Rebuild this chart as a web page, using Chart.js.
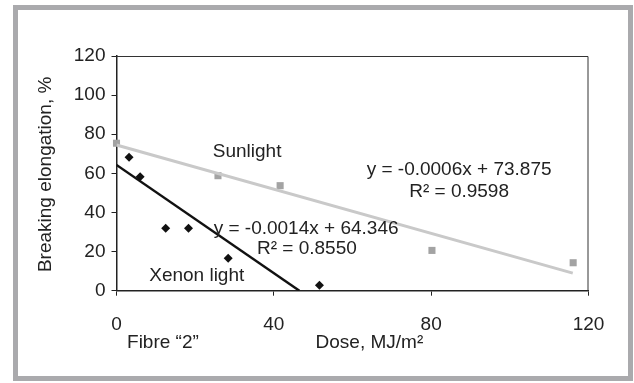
<!DOCTYPE html>
<html>
<head>
<meta charset="utf-8">
<script src="https://cdn.jsdelivr.net/npm/chart.js@4/dist/chart.umd.min.js"></script>
<style>
  html, body { margin: 0; padding: 0; background: #fff; }
  #wrap { position: relative; width: 634px; height: 383px; }
  #frame { position: absolute; left: 13px; top: 5px; width: 620px; height: 376px;
           border: 5px solid #aaaaad; box-sizing: border-box; }
  #chart { position: absolute; left: 0; top: 0; }
</style>
</head>
<body>
<div id="wrap">
  <div id="frame"></div>
  <canvas id="chart" width="634" height="383"></canvas>
</div>
<script>
// sunlight points
var sunDose = [0, 25.8, 41.6, 80.2, 116.1];
var sunElong = [75.4, 58.8, 53.7, 20.6, 14.3];
// xenon points
var xenonDose = [3.2, 6.0, 12.5, 18.3, 28.4, 51.6];
var xenonElong = [68.2, 58.3, 31.9, 31.9, 16.6, 2.8];
// trend lines (ends)
var sunTrendDose = [0, 116];
var sunTrendElong = [74.5, 9];
var xenonTrendDose = [0, 46.5];
var xenonTrendElong = [64.3, 0];
// ticks
var xTicks = [0, 40, 80, 120];
var yTicks = [0, 20, 40, 60, 80, 100, 120];

var FONT = '"Liberation Sans", Arial, sans-serif';
var TXT = '#222';

// text in the plot, placed at data coords
var notes = [
  { text: 'Sunlight', x: 33.2, y: 71.1 },
  { text: 'y = -0.0006x + 73.875', x: 87.1, y: 61.7 },
  { text: 'R\u00b2 = 0.9598', x: 87.1, y: 50.6 },
  { text: 'y = -0.0014x + 64.346', x: 48.2, y: 31.9 },
  { text: 'R\u00b2 = 0.8550', x: 48.4, y: 21.2 },
  { text: 'Xenon light', x: 20.4, y: 7.5 }
];

function toPoints(xs, ys) {
  var pts = [];
  for (var i = 0; i < xs.length; i++) {
    pts.push({ x: xs[i], y: ys[i] });
  }
  return pts;
}

// frame round plot area + free texts
var textPlugin = {
  id: 'texts',
  afterDatasetsDraw: function (chart) {
    var ctx = chart.ctx;
    var a = chart.chartArea;
    var xs = chart.scales.x, ys = chart.scales.y;
    ctx.save();
    // top and right edge of plot box
    ctx.strokeStyle = '#333';
    ctx.lineWidth = 1;
    ctx.beginPath();
    ctx.moveTo(a.left, a.top + 0.5);
    ctx.lineTo(a.right - 0.5, a.top + 0.5);
    ctx.lineTo(a.right - 0.5, a.bottom);
    ctx.stroke();

    ctx.fillStyle = TXT;
    ctx.font = '19px ' + FONT;
    ctx.textAlign = 'center';
    ctx.textBaseline = 'middle';
    notes.forEach(function (n) {
      ctx.fillText(n.text, xs.getPixelForValue(n.x), ys.getPixelForValue(n.y));
    });
    // under the axis
    ctx.fillText('Fibre \u201c2\u201d', xs.getPixelForValue(11.8), a.bottom + 52);
    ctx.fillText('Dose, MJ/m\u00b2', xs.getPixelForValue(64.3), a.bottom + 52);
    // y title
    ctx.translate(45.5, (a.top + a.bottom) / 2 + 1);
    ctx.rotate(-Math.PI / 2);
    ctx.fillText('Breaking elongation, %', 0, 0);
    ctx.restore();
  }
};

var ctx = document.getElementById('chart').getContext('2d');
var chart = new Chart(ctx, {
  type: 'scatter',
  data: {
    datasets: [
      {
        label: 'Sunlight trend',
        type: 'line',
        data: toPoints(sunTrendDose, sunTrendElong),
        borderColor: '#c9c9c9',
        borderWidth: 3,
        pointRadius: 0,
        fill: false
      },
      {
        label: 'Xenon trend',
        type: 'line',
        data: toPoints(xenonTrendDose, xenonTrendElong),
        borderColor: '#111',
        borderWidth: 2.5,
        pointRadius: 0,
        fill: false
      },
      {
        label: 'Sunlight',
        data: toPoints(sunDose, sunElong),
        pointStyle: 'rect',
        pointRadius: 5,
        backgroundColor: '#a3a3a3',
        borderColor: '#a3a3a3',
        borderWidth: 0,
        clip: false
      },
      {
        label: 'Xenon light',
        data: toPoints(xenonDose, xenonElong),
        pointStyle: 'rectRot',
        pointRadius: 4.5,
        backgroundColor: '#111',
        borderColor: '#111',
        borderWidth: 0,
        clip: false
      }
    ]
  },
  options: {
    responsive: false,
    animation: false,
    layout: { padding: { left: 0, top: 56, right: 45.5, bottom: 0 } },
    plugins: {
      legend: { display: false },
      tooltip: { enabled: false }
    },
    scales: {
      x: {
        type: 'linear',
        min: 0,
        max: 120,
        afterBuildTicks: function (s) {
          s.ticks = xTicks.map(function (v) { return { value: v }; });
        },
        afterFit: function (s) { s.height = 92.3; },
        grid: { display: true, drawOnChartArea: false, drawTicks: true, tickLength: 5, color: '#222' },
        border: { display: true, color: '#222', width: 1.5 },
        ticks: { color: TXT, font: { family: FONT, size: 19 }, padding: 18, maxRotation: 0 }
      },
      y: {
        type: 'linear',
        min: 0,
        max: 120,
        afterBuildTicks: function (s) {
          s.ticks = yTicks.map(function (v) { return { value: v }; });
        },
        afterFit: function (s) { s.width = 116.5; },
        grid: { display: true, drawOnChartArea: false, drawTicks: true, tickLength: 5, color: '#222' },
        border: { display: true, color: '#222', width: 1.5 },
        ticks: { color: TXT, font: { family: FONT, size: 19 }, padding: 6 }
      }
    }
  },
  plugins: [textPlugin]
});
</script>
</body>
</html>
